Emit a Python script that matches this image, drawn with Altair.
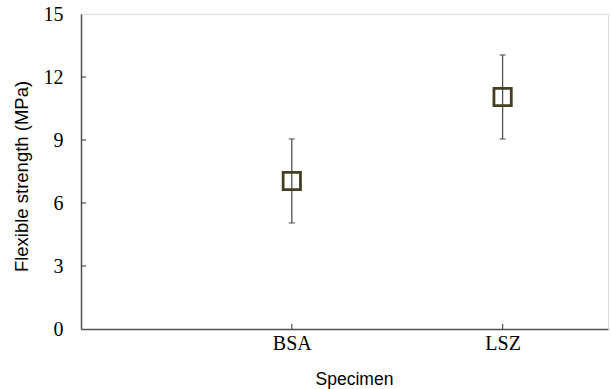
import altair as alt
import pandas as pd

specimens = ["BSA", "LSZ"]
means = [7.05, 11.05]
errors = [2.0, 2.0]
y_ticks = [0, 3, 6, 9, 12, 15]

df = pd.DataFrame({
    "specimen": specimens,
    "pos": [i + 1 for i in range(len(specimens))],
    "mean": means,
    "err": errors,
})
df["lo"] = df["mean"] - df["err"]
df["hi"] = df["mean"] + df["err"]

label_expr = "datum.value == 1 ? 'BSA' : datum.value == 2 ? 'LSZ' : ''"

W, H = 527, 315
GRAY = "#505050"

x_scale = alt.Scale(domain=[0, 2.5], nice=False, zero=False)
y_scale = alt.Scale(domain=[0, 15], nice=False)

x_axis = alt.Axis(values=[1, 2], labelExpr=label_expr, ticks=False, grid=False,
                  labelFont="Liberation Serif", labelFontSize=20, labelColor="black",
                  labelPadding=4, domainColor=GRAY, domainWidth=1.5,
                  title="Specimen", titleFont="Liberation Sans", titleFontSize=17.5,
                  titleFontWeight="normal", titleColor="black",
                  titleX=273, titleY=55, titleBaseline="alphabetic", titleAlign="center")
y_axis = alt.Axis(values=y_ticks, ticks=False, grid=False,
                  labelFont="Liberation Serif", labelFontSize=20, labelColor="black",
                  labelPadding=18, domainColor=GRAY, domainWidth=1.5,
                  title="Flexible strength (MPa)", titleFont="Liberation Sans",
                  titleFontSize=18.5, titleFontWeight="normal", titleColor="black",
                  titleX=-54, titleY=162, titleAngle=270, titleBaseline="alphabetic",
                  titleAlign="center")

base = alt.Chart(df)

err_rule = base.mark_rule(color=GRAY, strokeWidth=1.3).encode(
    x=alt.X("pos:Q", scale=x_scale, axis=x_axis),
    y=alt.Y("lo:Q", scale=y_scale, axis=y_axis),
    y2="hi:Q",
)
cap_lo = base.mark_tick(orient="horizontal", color=GRAY, size=6, thickness=1.5).encode(
    x=alt.X("pos:Q", scale=x_scale), y=alt.Y("lo:Q", scale=y_scale))
cap_hi = base.mark_tick(orient="horizontal", color=GRAY, size=6, thickness=1.5).encode(
    x=alt.X("pos:Q", scale=x_scale), y=alt.Y("hi:Q", scale=y_scale))
squares = base.mark_point(shape="square", filled=False, size=300, stroke="#433f24",
                          strokeWidth=2.8, opacity=1).encode(
    x=alt.X("pos:Q", scale=x_scale), y=alt.Y("mean:Q", scale=y_scale))

ytick_df = pd.DataFrame({"v": y_ticks[1:-1]})
yticks = alt.Chart(ytick_df).mark_rule(color=GRAY, strokeWidth=1.2).encode(
    x=alt.value(0), x2=alt.value(5), y=alt.Y("v:Q", scale=y_scale))
xticks = alt.Chart(df).mark_rule(color=GRAY, strokeWidth=1.2).encode(
    x=alt.X("pos:Q", scale=x_scale), y=alt.value(H), y2=alt.value(H - 5))

chart = alt.layer(err_rule, cap_lo, cap_hi, squares, yticks, xticks).properties(
    width=W, height=H,
    autosize=alt.AutoSizeParams(type="none"),
    padding={"left": 81, "top": 14, "right": 3, "bottom": 60},
).configure_view(stroke=GRAY, strokeWidth=1.5).configure(background="white")

chart.save("out.html", embed_options={"renderer": "svg", "actions": False})
